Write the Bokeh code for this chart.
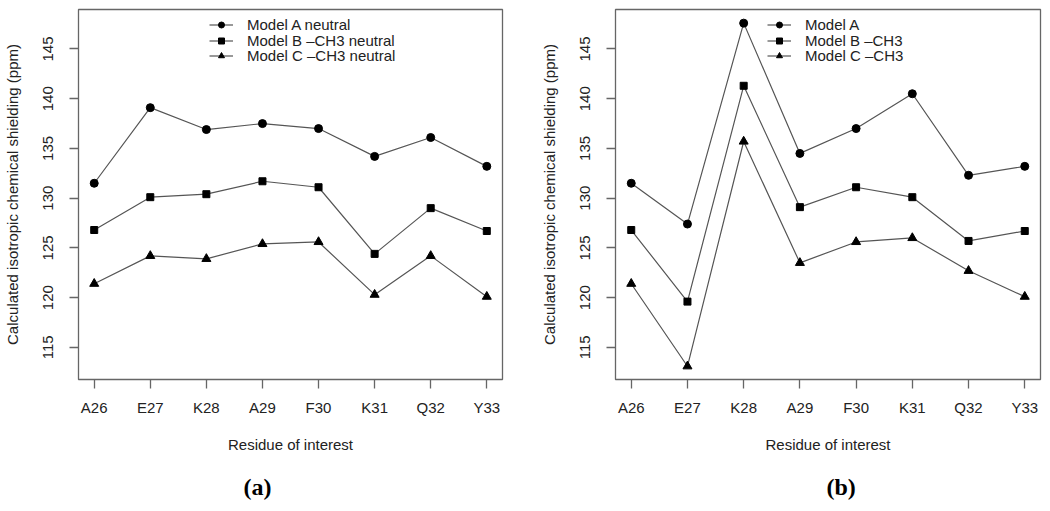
from bokeh.plotting import figure
from bokeh.models import Range1d, FixedTicker, Legend, LegendItem, Title
from bokeh.layouts import row
from bokeh.embed import file_html
from bokeh.resources import INLINE

residues = ["A26", "E27", "K28", "A29", "F30", "K31", "Q32", "Y33"]

# Panel (a): neutral models
a_model_a = [131.5, 139.1, 136.9, 137.5, 137.0, 134.2, 136.1, 133.2]
a_model_b = [126.8, 130.1, 130.4, 131.7, 131.1, 124.4, 129.0, 126.7]
a_model_c = [121.4, 124.2, 123.9, 125.4, 125.6, 120.3, 124.2, 120.1]

# Panel (b)
b_model_a = [131.5, 127.4, 147.6, 134.5, 137.0, 140.5, 132.3, 133.2]
b_model_b = [126.8, 119.6, 141.3, 129.1, 131.1, 130.1, 125.7, 126.7]
b_model_c = [121.4, 113.1, 135.7, 123.5, 125.6, 126.0, 122.7, 120.1]

y_ticks = [115, 120, 125, 130, 135, 140, 145]

FONT = "Liberation Sans"
FS = "15px"
TXT = "#222222"
LINE = "#555555"
BOX = "#666666"

LEGEND_ROWS_Y = [346, 330, 315]


def make_panel(series, labels, tag, frame_w, bl, br, leg_x, tag_offset):
    x = list(range(1, len(residues) + 1))
    p = figure(frame_width=frame_w, frame_height=370, output_backend="svg",
               toolbar_location=None,
               x_range=Range1d(0.72, 8.28), y_range=Range1d(111.77, 148.97),
               min_border_left=bl, min_border_right=br, min_border_top=9,
               min_border_bottom=0)
    p.grid.visible = False
    p.outline_line_color = BOX
    p.outline_line_width = 1.3
    p.background_fill_color = "white"
    p.border_fill_color = "white"

    markers = ["circle", "square", "triangle"]
    sizes = [8, 7, 9]
    for vals, lab, mk, sz, ly in zip(series, labels, markers, sizes, LEGEND_ROWS_Y):
        lr = p.line(x, vals, line_color=LINE, line_width=1.2)
        sr = p.scatter(x, vals, marker=mk, size=sz, fill_color="black", line_color="black")
        leg = Legend(items=[LegendItem(label=lab, renderers=[lr, sr])], location=(leg_x, ly),
                     background_fill_alpha=0, border_line_color=None, padding=0, margin=0,
                     spacing=0, glyph_height=15, label_height=15, glyph_width=24,
                     label_standoff=14, label_text_font=FONT, label_text_font_size=FS,
                     label_text_color=TXT)
        p.add_layout(leg)

    for ax in (p.xaxis[0], p.yaxis[0]):
        ax.axis_line_color = None
        ax.major_tick_line_color = BOX
        ax.major_tick_line_width = 1.3
        ax.major_tick_out = 9
        ax.major_tick_in = 0
        ax.minor_tick_line_color = None
        ax.major_label_text_font = FONT
        ax.major_label_text_font_size = FS
        ax.major_label_text_color = TXT
        ax.axis_label_text_font = FONT
        ax.axis_label_text_font_size = FS
        ax.axis_label_text_font_style = "normal"
        ax.axis_label_text_color = TXT

    p.xaxis.ticker = FixedTicker(ticks=x)
    p.xaxis.major_label_overrides = {i: r for i, r in zip(x, residues)}
    p.xaxis.major_label_standoff = 10
    p.xaxis.axis_label = "Residue of interest"
    p.xaxis.axis_label_standoff = 17

    p.yaxis.ticker = FixedTicker(ticks=y_ticks)
    p.yaxis.major_label_orientation = "parallel"
    p.yaxis.major_label_standoff = 16
    p.yaxis.axis_label = "Calculated isotropic chemical shielding (ppm)"
    p.yaxis.axis_label_standoff = 20

    t = Title(text=tag, align="left", offset=tag_offset, text_font="Liberation Serif",
              text_font_style="bold", text_font_size="24px", text_color="black", standoff=33)
    p.add_layout(t, "below")
    return p


p1 = make_panel([a_model_a, a_model_b, a_model_c],
                ["Model A neutral", "Model B \u2013CH3 neutral", "Model C \u2013CH3 neutral"],
                "(a)", 424, 78, 23, 131, 165)
p2 = make_panel([b_model_a, b_model_b, b_model_c],
                ["Model A", "Model B \u2013CH3", "Model C \u2013CH3"],
                "(b)", 425, 90, 10, 152, 211)

layout = row(p1, p2)
open("out.html", "w").write(file_html(layout, INLINE))
